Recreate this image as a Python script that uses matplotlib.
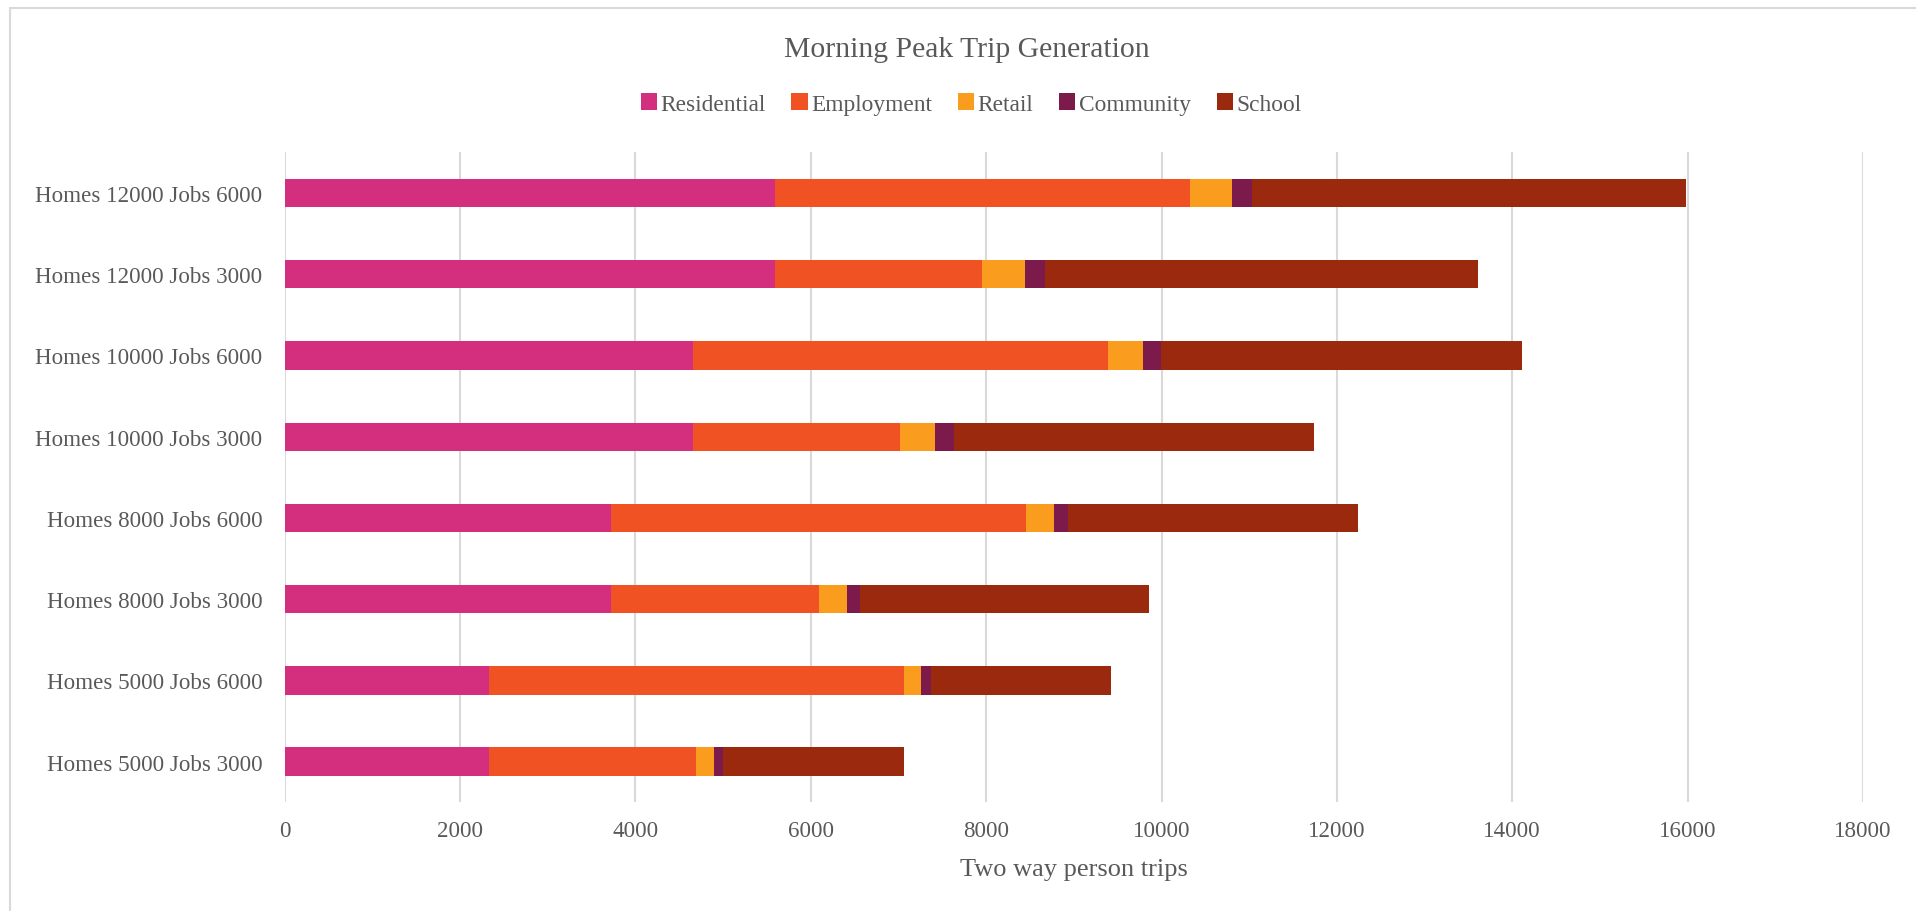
import matplotlib
matplotlib.use("Agg")
import matplotlib.pyplot as plt
import numpy as np
from matplotlib.patches import Rectangle

# bottom-to-top order, as drawn
scenarios = [
    "Homes 5000 Jobs 3000", "Homes 5000 Jobs 6000",
    "Homes 8000 Jobs 3000", "Homes 8000 Jobs 6000",
    "Homes 10000 Jobs 3000", "Homes 10000 Jobs 6000",
    "Homes 12000 Jobs 3000", "Homes 12000 Jobs 6000",
]
residential = [2330, 2330, 3725, 3725, 4655, 4655, 5590, 5590]
employment = [2365, 4735, 2370, 4735, 2365, 4735, 2362, 4735]
retail = [200, 190, 317, 316, 401, 401, 486, 475]
community = [105, 116, 147, 158, 210, 200, 232, 232]
school = [2067, 2057, 3301, 3302, 4114, 4124, 4936, 4947]

series_names = ["Residential", "Employment", "Retail", "Community", "School"]
series_vals = [residential, employment, retail, community, school]
colors = ["#D42E7E", "#F05224", "#FA9C1E", "#7C1A4C", "#9B290D"]
x_ticks = [0, 2000, 4000, 6000, 8000, 10000, 12000, 14000, 16000, 18000]

INK = "#595959"
GRID = "#D9D9D9"
FS = 16.6

plt.rcParams["font.family"] = ["Liberation Serif", "DejaVu Serif"]

fig = plt.figure(figsize=(19.16, 9.12), dpi=100)
ax = fig.add_axes([0.1486, 0.1192, 0.8237, 0.7126])

# chart-area border (cropped at the right and bottom in the reference)
fig.patches.append(Rectangle((10 / 1916, -0.05), 1.2, 1 - 9 / 912 + 0.05,
                             transform=fig.transFigure, fill=False,
                             edgecolor=GRID, lw=1.5, zorder=0))

y = np.arange(len(scenarios))
left = np.zeros(len(scenarios))
handles = []
for name, vals, col in zip(series_names, series_vals, colors):
    h = ax.barh(y, vals, height=0.35, left=left, color=col, label=name,
                linewidth=0, zorder=3)
    handles.append(h)
    left += np.array(vals)

ax.set_xlim(0, 18000)
ax.set_ylim(-0.5, len(scenarios) - 0.5)
ax.set_xticks(x_ticks)
ax.set_xticklabels([str(t) for t in x_ticks])
ax.set_yticks(y)
ax.set_yticklabels(scenarios)
ax.tick_params(axis="both", length=0, labelsize=FS, labelcolor=INK)
ax.tick_params(axis="y", pad=16)
ax.tick_params(axis="x", pad=13)
ax.grid(axis="x", color=GRID, lw=1.5, zorder=0)
ax.set_axisbelow(True)
for s in ax.spines.values():
    s.set_visible(False)

ax.set_xlabel("Two way person trips", fontsize=19, color=INK, labelpad=12)

fig.text(967 / 1916, 1 - 50 / 912, "Morning Peak Trip Generation",
         ha="center", va="center", fontsize=21.3, color=INK)

fig.legend(handles=handles, labels=series_names, loc="center",
           bbox_to_anchor=(971 / 1916, 1 - 105 / 912), ncol=5, frameon=False,
           fontsize=16.8, labelcolor=INK, handlelength=0.7, handleheight=0.7,
           handletextpad=0.15, columnspacing=1.1)

fig.savefig("out.png", dpi=100)
